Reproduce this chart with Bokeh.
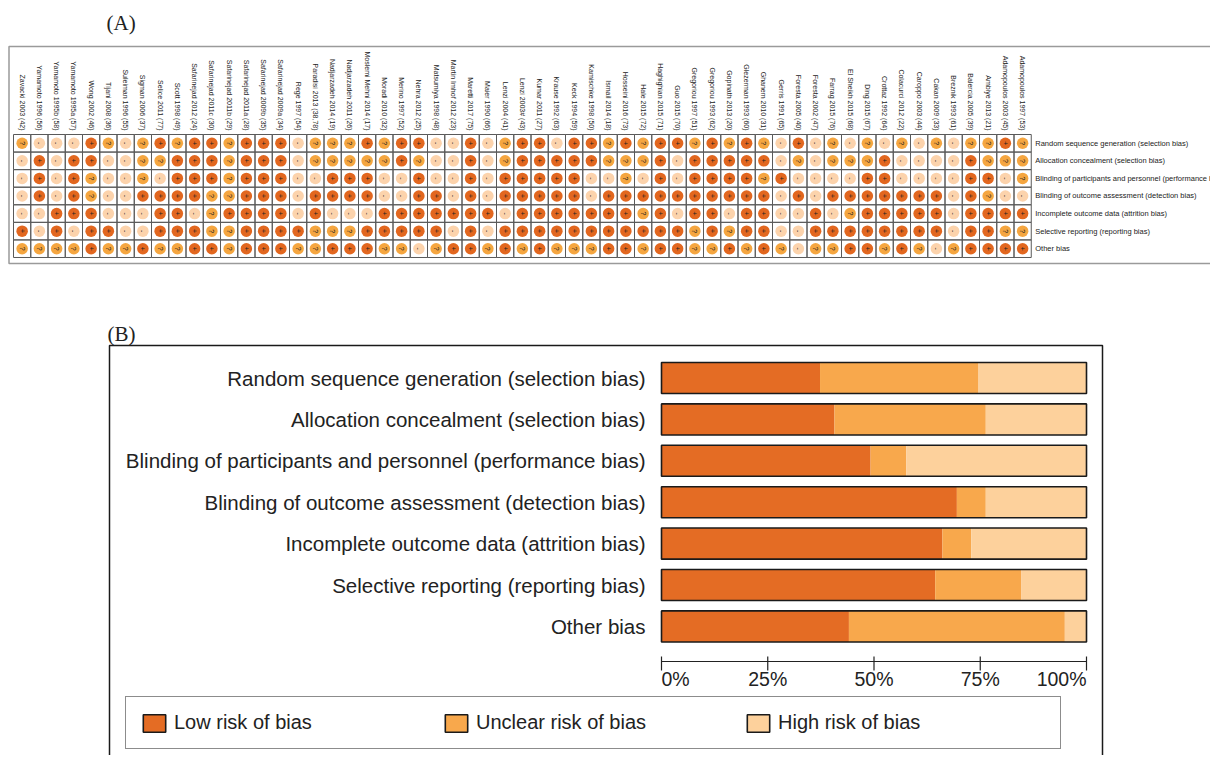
import math
from bokeh.plotting import figure
from bokeh.models import Range1d, ColumnDataSource, Legend, LegendItem, BoxAnnotation
from bokeh.embed import file_html
from bokeh.resources import INLINE
from bokeh.core.properties import value

# ---------------- data ----------------
studies = [
    "Zavacki 2003 (42)", "Yamamoto 1996 (56)", "Yamamoto 1995b (58)", "Yamamoto 1995a (57)",
    "Wong 2002 (46)", "Tijani 2008 (36)", "Suleiman 1996 (55)", "Sigman 2006 (37)",
    "Selice 2011 (77)", "Scott 1998 (49)", "Safarinejad 2012 (24)", "Safarinejad 2011c (30)",
    "Safarinejad 2011b (29)", "Safarinejad 2011a (28)", "Safarinejad 2009b (35)", "Safarinejad 2009a (34)",
    "Rege 1997 (54)", "Paradisi 2013 (38,78)", "Nadjarzadeh 2014 (19)", "Nadjarzadeh 2011 (26)",
    "Moslemi Mehni 2014 (17)", "Moradi 2010 (32)", "Merino 1997 (52)", "Nehra 2012 (25)",
    "Matsumiya 1998 (48)", "Martin Imhof 2012 (23)", "Maretti 2017 (75)", "Maier 1990 (66)",
    "Lenzi 2004 (41)", "Lenzi 2003# (43)", "Kumar 2011 (27)", "Krause 1992 (63)",
    "Keck 1994 (59)", "Kamischke 1998 (50)", "Ismail 2014 (18)", "Hosseini 2016 (73)",
    "Hale 2015 (72)", "Haghighian 2015 (71)", "Guo 2015 (70)", "Gregoriou 1997 (51)",
    "Gregoriou 1993 (62)", "Gopinath 2013 (20)", "Glezerman 1993 (60)", "Ghanem 2010 (31)",
    "Gerris 1991 (65)", "Foresta 2005 (40)", "Foresta 2002 (47)", "Farrag 2015 (76)",
    "El Sheikh 2015 (68)", "Ding 2015 (67)", "Crottaz 1992 (64)", "Colacurci 2012 (22)",
    "Caroppo 2003 (44)", "Cakan 2009 (33)", "Breznik 1993 (61)", "Balercia 2005 (39)",
    "Ambiye 2013 (21)", "Adamopoulos 2003 (45)", "Adamopoulos 1997 (53)",
]

domains = [
    "Random sequence generation (selection bias)",
    "Allocation concealment (selection bias)",
    "Blinding of participants and personnel (performance bias)",
    "Blinding of outcome assessment (detection bias)",
    "Incomplete outcome data (attrition bias)",
    "Selective reporting (reporting bias)",
    "Other bias",
]

# judgements per domain, one per study (L = low, U = unclear, H = high)
rsg = ("U H H H L U H U L U L L U L L L H U U U L U L L H H L H U L L H "
       "L L U L U L L U L U L U H L H U H U H U H U H U U L U").split()
ac = ("H L H L L H H U U L L L U L L L H U U U U U L U H H L H U L L L "
      "L L U U U L H L L L L L H U H U U U L H H H H L U U U").split()
bpp = ("H L H L U H H U H L L L U L L L H H L L L H H L H H L H L L L L "
       "L H H U H L H L L L L U L H H H H L L H H H H L L H U").split()
boa = ("H L H L U H H L L L L U U L L L H L L L L H H L L H L H L L L L "
       "L H L L L L L L L L L L H L H L L L L L L L H L U H H").split()
iod = ("H H L L L H H H L L H U L L L L H L H H H L L L L L L L H L L L "
       "L L L L U L H L L H L L H H L H U L L L L L H L L L L").split()
sr = ("L H L H L L H H L L L U U L L L L U U U L L L L L H L H L L L L "
      "L L L L L L L U L U L L H H L L L L L L L L H L L U U").split()
ob = ("U U U U L U U L U U L L U L L L U U L L L U U H U L L U L U L U "
      "U U L L U L L U U L U L U H U U L L U L U H U L L L L").split()

# Panel B: percentage of studies per judgement
low_pct = [37.3, 40.7, 49.2, 69.5, 66.1, 64.4, 44.1]
unclear_pct = [37.3, 35.6, 8.4, 6.8, 6.8, 20.3, 50.8]
high_pct = [25.4, 23.7, 42.4, 23.7, 27.1, 15.3, 5.1]

legend_labels = ["Low risk of bias", "Unclear risk of bias", "High risk of bias"]
pct_ticks = [0, 25, 50, 75, 100]

# ---------------- style / layout ----------------
C_LOW, C_UNC, C_HIGH = "#E46C24", "#F8A84C", "#FDD19C"
DOT = {"L": "#E2671F", "U": "#F5A640", "H": "#FCD3AC"}
SYM = {"L": "+", "U": "?", "H": "-"}
SANS = "Liberation Sans"
SERIF = "Liberation Serif"
INK = "#222222"

CW, CH = 1210, 755          # canvas size (canvas sits at the page origin)

# panel A scale: one unit per cell
A_CELL_W, A_CELL_H = 17.25, 17.57
A_LEFT, A_TOP = 13, 134
ax0 = -0.5 - A_LEFT / A_CELL_W
ax1 = ax0 + CW / A_CELL_W
ay_top = -0.5 - A_TOP / A_CELL_H
ay_bot = ay_top + CH / A_CELL_H


def a_x(cx):
    return ax0 + cx / A_CELL_W


def a_y(cy):
    return ay_top + cy / A_CELL_H


# panel B scale: percent horizontally, one unit per domain row vertically
B_PX_PCT, B_ZERO = 4.25, 661
B_ROW, B_ROW0 = 41.4, 377.5
bx0 = -B_ZERO / B_PX_PCT
bx1 = bx0 + CW / B_PX_PCT
by_top = -B_ROW0 / B_ROW
by_bot = by_top + CH / B_ROW


def b_x(cx):
    return bx0 + cx / B_PX_PCT


def b_y(cy):
    return by_top + cy / B_ROW


p = figure(width=CW, height=CH, output_backend="svg", toolbar_location=None, title=None,
           x_range=Range1d(ax0, ax1), y_range=Range1d(ay_bot, ay_top),
           x_axis_location=None, y_axis_location=None, min_border=0)
p.extra_x_ranges = {"bx": Range1d(bx0, bx1)}
p.extra_y_ranges = {"by": Range1d(by_bot, by_top)}
p.outline_line_color = None
p.grid.visible = False
p.background_fill_color = "white"
p.border_fill_color = "white"

# ---------------- panel A ----------------
n = len(studies)
xs, ys, codes = [], [], []
for r, col in enumerate([rsg, ac, bpp, boa, iod, sr, ob]):
    for i, c in enumerate(col):
        xs.append(i)
        ys.append(r)
        codes.append(c)
srcA = ColumnDataSource(dict(x=xs, y=ys, code=codes,
                             color=[DOT[c] for c in codes],
                             sym=[SYM[c] for c in codes]))

p.rect(x="x", y="y", width=1, height=1, fill_color=None, line_color="#5a5a5a",
       line_width=1, source=srcA)
p.scatter(x="x", y="y", size=11.5, fill_color="color", line_color=None, source=srcA)
p.text(x="x", y="y", text="sym", text_font=value(SANS), text_font_size="7px",
       text_color=INK, text_align="center", text_baseline="middle",
       angle=-math.pi / 2, source=srcA)

# study names (rotated, reading downward, ending just above the grid)
p.text(x=list(range(n)), y=[-0.5] * n, text=studies, y_offset=-4, angle=-math.pi / 2,
       text_font=value(SANS), text_font_size="7px", text_color=INK,
       text_align="right", text_baseline="middle")

# domain names to the right of the grid
p.text(x=[n - 0.5] * len(domains), y=list(range(len(domains))), text=domains, x_offset=4,
       text_font=value(SANS), text_font_size="7.5px", text_color=INK,
       text_align="left", text_baseline="middle")

p.text(x=[a_x(106)], y=[a_y(22)], text=["(A)"], text_font=value(SERIF),
       text_font_size="21px", text_color=INK, text_align="left", text_baseline="alphabetic")

p.add_layout(BoxAnnotation(left=a_x(8.5), right=a_x(CW + 60), top=a_y(46), bottom=a_y(263),
                           fill_alpha=0, line_color="#9a9a9a", line_width=1.5,
                           line_alpha=1, line_dash="solid"))

# ---------------- panel B ----------------
rows = list(range(len(domains)))
srcB = ColumnDataSource(dict(y=rows, low=low_pct, unclear=unclear_pct, high=high_pct,
                             total=[a + b + c for a, b, c in zip(low_pct, unclear_pct, high_pct)]))
segs = p.hbar_stack(["low", "unclear", "high"], y="y", height=0.75,
                    fill_color=[C_LOW, C_UNC, C_HIGH], line_color=None, source=srcB,
                    x_range_name="bx", y_range_name="by")
outline = p.hbar(y="y", left=0, right="total", height=0.75, fill_color=None,
                 line_color="#1a1a1a", line_width=1.6, source=srcB,
                 x_range_name="bx", y_range_name="by")

p.text(x=[pct_ticks[0]] * len(domains), y=rows, text=domains, x_offset=-16,
       text_font=value(SANS), text_font_size="20.5px", text_color=INK,
       text_align="right", text_baseline="middle", x_range_name="bx", y_range_name="by")

# percentage axis
axis_y = b_y(661)
p.segment(x0=[pct_ticks[0]], x1=[pct_ticks[-1]], y0=[axis_y], y1=[axis_y],
          line_color=INK, line_width=1.2, x_range_name="bx", y_range_name="by")
p.segment(x0=pct_ticks, x1=pct_ticks, y0=[axis_y - 5 / B_ROW] * len(pct_ticks),
          y1=[axis_y + 9 / B_ROW] * len(pct_ticks),
          line_color=INK, line_width=1.2, x_range_name="bx", y_range_name="by")
tick_src = ColumnDataSource(dict(
    x=pct_ticks, y=[axis_y] * len(pct_ticks), text=[f"{t}%" for t in pct_ticks],
    align=["left"] + ["center"] * (len(pct_ticks) - 2) + ["right"]))
p.text(x="x", y="y", text="text", text_align="align", y_offset=6, source=tick_src,
       text_font=value(SANS), text_font_size="19.5px", text_color=INK,
       text_baseline="top", x_range_name="bx", y_range_name="by")

legend = Legend(items=[LegendItem(label=lab, renderers=[r, outline])
                       for lab, r in zip(legend_labels, segs)],
                location=(125, 6), orientation="horizontal",
                glyph_width=28, glyph_height=22, label_standoff=6, spacing=0,
                label_width=268, padding=14, margin=0,
                label_text_font=SANS, label_text_font_size="20px", label_text_color=INK,
                border_line_color="#1a1a1a", border_line_width=1.5,
                background_fill_color="white", background_fill_alpha=1)
p.add_layout(legend)

p.text(x=[b_x(107)], y=[b_y(333)], text=["(B)"], text_font=value(SERIF),
       text_font_size="21px", text_color=INK, text_align="left", text_baseline="alphabetic",
       x_range_name="bx", y_range_name="by")

p.add_layout(BoxAnnotation(left=b_x(109), right=b_x(1102), top=b_y(345), bottom=b_y(CH + 60),
                           x_range_name="bx", y_range_name="by",
                           fill_alpha=0, line_color="#1a1a1a", line_width=1.5,
                           line_alpha=1, line_dash="solid"))

open("out.html", "w").write(file_html(p, INLINE))
